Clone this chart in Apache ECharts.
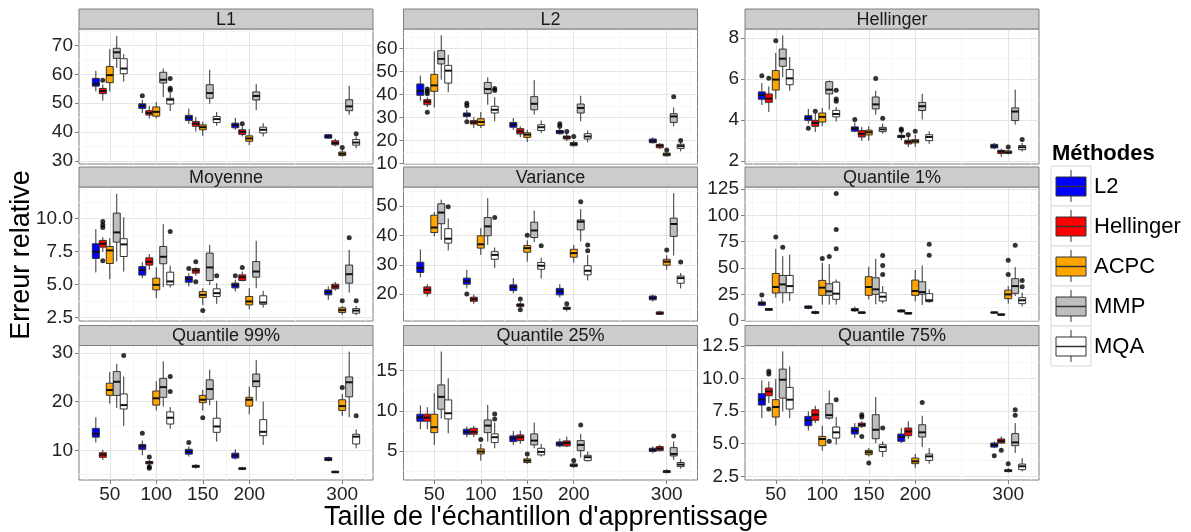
<!DOCTYPE html>
<html><head><meta charset="utf-8">
<script src="https://cdn.jsdelivr.net/npm/echarts@6/dist/echarts.min.js"></script>
<style>html,body{margin:0;padding:0;background:#fff}#c{width:1191px;height:532px}</style>
</head><body><div id="c"></div><script>
// ---------- data ----------
const xTicks = [50, 100, 150, 200, 300];
const xMinorTicks = [25, 75, 125, 175, 250, 325];
const methods = ['L2', 'Hellinger', 'ACPC', 'MMP', 'MQA'];
const panelTitles = ['L1', 'L2', 'Hellinger', 'Moyenne', 'Variance', 'Quantile 1%', 'Quantile 99%', 'Quantile 25%', 'Quantile 75%'];

// stats per method, per x tick: [lower whisker, q1, median, q3, upper whisker]
const L1_stats = [
  [[54.1,55.9,56.7,58.6,61.2],[46.6,48.2,49.1,49.8,51.2],[42.8,44.0,45.0,45.8,48.1],[40.8,41.5,42.4,43.1,44.9],[37.7,37.9,38.5,39.1,39.4]],
  [[50.9,53.3,54.2,55.1,56.5],[44.7,45.9,46.6,47.4,49.1],[40.2,42.0,42.9,43.7,45.2],[38.5,39.2,40.1,40.8,42.0],[35.1,35.6,36.2,37.0,37.7]],
  [[54.1,57.1,59.7,62.7,68.7],[44.7,45.5,47.0,48.7,50.4],[38.7,40.8,41.7,42.5,43.6],[35.5,36.8,37.8,38.7,41.0],[31.4,31.9,32.5,33.1,33.9]],
  [[62.2,65.5,67.6,69.0,73.3],[52.1,57.0,58.1,60.7,62.0],[49.8,51.7,53.5,56.4,61.6],[47.6,51.1,52.5,53.9,56.6],[46.0,47.4,48.9,51.2,56.0]],
  [[57.5,60.2,62.0,65.4,67.0],[47.3,49.7,51.2,51.7,53.5],[42.2,43.3,44.5,45.4,47.0],[38.5,39.7,40.8,41.7,43.1],[34.4,35.5,36.4,37.4,38.5]]
];
// outliers: [method index, x tick index, value]
const L1_out = [[1,0,57.9],[0,1,52.6],[4,1,58.5],[4,1,55.2],[4,1,54.5],[1,3,42.9],[2,4,34.7],[4,4,39.4]];

const L2_stats = [
  [[37.2,39.6,41.4,44.5,48.1],[29.4,30.4,31.2,31.9,33.3],[24.6,25.7,26.8,27.8,29.7],[22.5,22.9,23.8,24.3,25.4],[18.6,19.0,19.7,20.6,21.3]],
  [[34.5,35.5,36.8,37.7,38.7],[25.4,27.1,27.8,28.6,30.1],[21.4,22.8,23.9,25.1,26.1],[19.7,20.6,21.3,21.9,23.2],[16.2,16.8,17.7,18.3,18.8]],
  [[34.3,41.3,43.9,48.7,58.7],[25.4,26.5,28.0,29.4,32.3],[19.3,21.3,22.5,23.3,24.6],[17.2,17.7,18.4,19.1,20.0],[12.9,13.3,13.9,14.5,14.8]],
  [[46.4,53.2,55.4,59.0,65.7],[35.5,40.4,42.3,45.2,47.4],[31.2,33.3,35.9,39.0,46.2],[28.3,31.9,34.1,35.8,39.4],[26.1,27.8,30.4,31.6,34.3]],
  [[40.9,44.9,50.3,52.6,57.2],[28.3,31.9,33.3,34.8,38.8],[23.2,24.3,25.7,26.8,28.7],[19.1,20.6,21.7,22.9,24.2],[15.2,16.5,17.5,18.3,19.1]]
];
const L2_out = [[1,0,42.3],[1,0,41.3],[1,0,40.3],[1,0,32.2],[0,1,36.1],[0,1,35.1],[0,1,28.1],[4,1,42.5],[4,1,41.7],[0,3,27.2],[0,3,26.1],[1,3,23.9],[2,3,21.7],[2,4,15.8],[3,4,39.0],[4,4,20.0]];

const Hel_stats = [
  [[4.73,5.01,5.22,5.37,5.8],[3.82,3.98,4.1,4.21,4.54],[3.4,3.45,3.58,3.66,3.89],[3.01,3.14,3.2,3.25,3.37],[2.57,2.63,2.72,2.81,2.88]],
  [[4.39,4.86,5.04,5.27,5.64],[3.41,3.69,3.85,3.98,4.34],[2.98,3.17,3.32,3.48,3.66],[2.68,2.83,2.93,3.01,3.2],[2.2,2.36,2.46,2.52,2.59]],
  [[5.02,5.46,5.97,6.41,7.27],[3.69,3.9,4.15,4.34,4.59],[2.98,3.27,3.4,3.5,3.69],[2.68,2.88,2.96,3.04,3.28],[2.31,2.37,2.42,2.49,2.55]],
  [[6.08,6.62,6.99,7.46,8.13],[4.5,5.27,5.48,5.87,5.93],[4.26,4.54,4.76,5.12,5.43],[4.02,4.46,4.67,4.86,5.28],[3.77,3.97,4.41,4.59,5.48]],
  [[5.43,5.72,6.03,6.46,7.07],[3.92,4.15,4.29,4.47,4.63],[3.33,3.43,3.54,3.64,3.82],[2.83,2.99,3.17,3.28,3.45],[2.46,2.55,2.67,2.75,2.88]]
];
const Hel_out = [[0,0,6.16],[1,0,6.03],[2,0,7.87],[0,1,3.59],[1,1,4.42],[4,1,5.45],[4,1,5.02],[4,1,4.91],[0,2,4.02],[3,2,6.02],[4,2,4.08],[0,3,3.56],[0,3,3.48],[1,3,3.28],[2,3,3.45],[2,4,2.68],[4,4,3.04]];

const Moy_stats = [
  [[5.9,6.96,7.47,8.08,9.19],[5.47,5.7,6.1,6.35,6.68],[4.84,5.16,5.42,5.59,5.85],[4.46,4.73,4.94,5.09,5.34],[3.82,4.2,4.41,4.58,4.84]],
  [[7.47,7.82,8.08,8.33,8.58],[6.1,6.46,6.71,7.01,7.29],[5.65,5.85,6.05,6.2,6.3],[5.22,5.29,5.54,5.72,5.97],[4.53,4.66,4.84,5.01,5.19]],
  [[5.39,6.58,7.57,7.87,8.5],[3.95,4.58,4.96,5.47,6.3],[3.44,4.0,4.2,4.46,4.71],[3.11,3.44,3.7,4.08,4.71],[2.68,2.86,3.04,3.22,3.37]],
  [[6.73,8.2,8.94,10.4,11.87],[4.78,6.56,7.09,7.87,9.57],[4.96,5.29,6.28,7.37,8.0],[4.71,5.54,5.97,6.73,8.3],[4.38,5.09,5.77,6.46,7.62]],
  [[5.97,7.11,8.03,8.46,10.08],[4.76,4.96,5.22,5.92,6.41],[3.52,4.08,4.33,4.66,5.09],[3.24,3.49,3.62,4.13,4.51],[2.66,2.81,3.01,3.16,3.37]]
];
const Moy_out = [[1,0,9.77],[1,0,9.5],[1,0,9.3],[1,0,6.78],[4,1,9.01],[0,2,6.2],[1,2,6.71],[1,2,5.19],[2,2,3.01],[4,2,5.65],[0,3,5.65],[1,3,6.28],[2,4,3.75],[3,4,8.53],[4,4,3.75]];

const Var_stats = [
  [[25.7,27.4,28.9,30.9,35.3],[22.0,23.4,24.4,25.5,28.3],[20.3,21.25,22.4,23.2,25.5],[18.9,19.8,21.0,22.0,23.5],[17.5,18.1,18.75,19.4,19.9]],
  [[19.2,20.3,21.5,22.5,23.4],[16.7,17.6,18.3,19.0,19.9],[15.3,15.8,16.4,16.7,17.5],[14.2,14.9,15.2,15.6,16.0],[13.0,13.2,13.5,14.0,14.4]],
  [[39.7,41.0,42.7,46.9,48.0],[33.4,35.7,37.0,39.9,42.5],[31.1,34.3,35.7,36.6,38.4],[30.8,32.6,34.0,35.3,36.8],[28.3,29.9,31.1,31.9,33.3]],
  [[38.5,44.0,47.8,50.8,52.2],[36.8,39.9,43.1,46.1,52.7],[37.7,39.3,41.7,44.5,48.5],[38.0,41.9,44.7,45.3,49.0],[33.2,39.7,43.9,45.9,54.4]],
  [[34.9,37.4,38.9,42.3,45.8],[28.9,31.9,33.4,34.5,35.9],[25.3,28.5,29.7,30.8,32.5],[24.7,26.6,28.0,29.7,33.4],[22.0,23.75,25.5,26.2,27.2]]
];
const Var_out = [[4,0,49.8],[0,1,20.1],[4,1,46.1],[1,2,18.4],[1,2,14.7],[2,2,40.1],[4,2,36.5],[1,3,16.8],[3,3,51.5],[4,3,36.8],[4,3,34.8],[2,4,35.1],[4,4,31.0]];

const Q01_stats = [
  [[13.6,14.5,16.4,17.7,20.2],[10.7,11.7,12.6,13.9,14.5],[8.2,9.2,10.1,11.4,13.3],[7.6,8.2,9.2,10.1,10.7],[6.6,7.3,7.6,8.2,8.8]],
  [[9.2,9.8,10.7,11.4,12.0],[6.0,6.9,7.6,8.5,9.5],[6.6,6.9,7.6,8.2,8.8],[5.7,6.3,6.9,7.6,8.2],[4.7,5.1,5.7,6.3,6.6]],
  [[21.8,26.2,31.9,44.8,68.2],[15.2,24.0,31.3,38.2,54.9],[20.2,24.0,31.9,41.7,51.1],[18.3,24.0,28.1,38.5,48.0],[16.1,20.8,24.9,29.0,32.8]],
  [[16.4,26.5,34.4,42.9,61.2],[15.2,24.0,27.8,35.0,53.7],[15.5,25.0,29.7,40.7,58.7],[14.8,25.0,27.1,36.9,52.4],[23.4,25.9,32.8,39.8,50.8]],
  [[18.6,26.5,32.8,42.9,62.8],[15.2,20.2,25.6,36.6,39.1],[16.4,18.6,22.7,26.5,32.8],[17.0,18.0,19.3,25.6,29.7],[13.3,16.1,19.3,21.8,26.5]]
];
const Q01_out = [[0,0,24.3],[2,0,79.5],[3,0,69.8],[2,1,59.0],[3,1,60.9],[4,1,68.2],[4,1,86.5],[4,1,120.9],[4,2,43.9],[4,2,52.4],[4,2,61.9],[4,3,62.2],[4,3,72.6],[2,4,43.9],[2,4,57.4],[3,4,71.7],[4,4,38.2],[4,4,32.2]];

const Q99_stats = [
  [[11.6,12.7,13.4,14.5,16.8],[9.0,10.2,10.8,11.2,12.0],[8.7,9.2,9.7,10.2,10.8],[8.1,8.4,8.9,9.4,10.2],[7.7,7.9,8.1,8.5,8.7]],
  [[8.0,8.55,9.1,9.5,10.1],[6.9,7.2,7.5,7.7,8.0],[6.2,6.5,6.7,6.9,7.2],[5.9,6.1,6.2,6.4,6.6],[5.3,5.4,5.5,5.7,5.8]],
  [[19.6,21.3,22.4,23.8,26.1],[18.2,19.3,20.7,22.2,24.2],[18.2,19.8,20.4,21.3,22.4],[17.4,19.1,20.4,20.9,23.1],[17.1,18.2,19.1,20.4,21.6]],
  [[18.7,21.3,24.1,26.2,27.8],[19.0,20.9,23.0,24.8,28.3],[19.3,20.5,22.6,24.5,26.6],[20.2,23.1,24.2,25.7,28.6],[16.8,21.0,24.0,25.1,30.3]],
  [[15.0,18.5,19.3,21.6,25.2],[14.4,15.4,16.7,17.9,18.9],[11.8,13.7,14.9,16.6,20.2],[11.1,13.0,13.8,16.3,20.0],[10.4,11.3,12.8,13.3,14.3]]
];
const Q99_out = [[4,0,29.5],[0,1,13.5],[1,1,8.6],[1,1,6.6],[1,1,6.3],[4,1,25.2],[4,1,22.1],[0,2,11.6],[2,2,16.7],[2,4,22.9],[4,4,17.1]];

const Q25_stats = [
  [[7.73,8.72,9.21,9.59,10.66],[6.74,7.11,7.4,7.73,8.06],[5.79,6.2,6.61,6.9,7.52],[5.5,5.66,5.91,6.16,6.57],[4.75,4.96,5.17,5.37,5.58]],
  [[7.73,8.72,9.17,9.59,10.45],[6.74,7.11,7.4,7.85,8.14],[5.91,6.32,6.74,7.02,7.56],[5.5,5.66,6.03,6.28,6.82],[4.96,5.08,5.33,5.58,5.79]],
  [[5.79,7.31,7.98,9.59,12.19],[3.84,4.67,4.96,5.29,5.91],[3.43,3.6,3.84,4.05,4.34],[2.93,3.1,3.26,3.43,3.6],[2.27,2.36,2.48,2.6,2.77]],
  [[9.05,10.21,11.74,13.22,17.36],[6.2,7.31,8.18,8.88,10.74],[5.37,5.79,6.32,7.15,8.55],[4.21,5.08,5.79,6.32,7.15],[3.93,4.42,4.67,5.45,6.2]],
  [[7.23,9.0,9.71,11.36,14.05],[5.37,6.07,6.74,7.15,8.55],[4.34,4.55,4.92,5.37,5.91],[3.72,3.84,4.26,4.5,4.96],[2.85,3.1,3.35,3.6,4.01]]
];
const Q25_out = [[2,1,6.45],[4,1,9.63],[4,1,9.0],[2,2,4.67],[2,3,3.84],[3,3,8.26],[3,4,6.9]];

const Q75_stats = [
  [[6.96,7.96,8.37,8.83,9.85],[6.0,6.38,6.79,7.09,7.47],[5.43,5.74,6.0,6.25,6.58],[5.05,5.18,5.51,5.74,6.2],[4.67,4.74,4.9,5.05,5.18]],
  [[8.11,8.67,9.0,9.26,9.77],[6.58,6.79,7.22,7.6,7.91],[6.2,6.33,6.45,6.58,6.71],[5.36,5.61,5.94,6.2,6.71],[5.0,5.05,5.2,5.36,5.56]],
  [[6.38,7.04,7.81,8.37,9.95],[4.46,4.85,5.36,5.56,6.38],[4.03,4.16,4.34,4.49,4.67],[3.14,3.47,3.65,3.9,4.21],[2.81,2.86,2.93,3.01,3.14]],
  [[7.47,8.49,9.9,10.71,12.07],[6.84,6.96,7.19,8.06,9.08],[5.05,5.38,6.07,7.22,8.57],[4.74,5.51,5.87,6.45,7.14],[4.29,4.85,5.1,5.77,6.58]],
  [[6.96,7.65,8.37,9.31,10.92],[4.92,5.43,5.87,6.28,7.04],[3.98,4.41,4.74,4.92,5.18],[3.47,3.72,4.03,4.21,4.67],[2.88,3.01,3.27,3.44,3.9]]
];
const Q75_out = [[1,0,10.54],[1,0,10.33],[1,0,7.65],[3,1,5.18],[4,1,8.37],[1,2,7.22],[1,2,7.04],[1,2,5.56],[2,2,3.52],[4,2,6.2],[3,3,8.16],[0,4,4.08],[1,4,4.49],[2,4,3.47],[3,4,7.6],[3,4,7.17]];

// y tick labels (major) and minor grid positions per panel
const L1_ticks = [30,40,50,60,70],      L1_minor = [35,45,55,65,75];
const L2_ticks = [10,20,30,40,50,60],   L2_minor = [15,25,35,45,55,65];
const Hel_ticks = [2,4,6,8],            Hel_minor = [3,5,7];
const Moy_ticks = [2.5,5,7.5,10],       Moy_minor = [3.75,6.25,8.75,11.25];
const Var_ticks = [20,30,40,50],        Var_minor = [15,25,35,45,55];
const Q01_ticks = [0,25,50,75,100,125], Q01_minor = [12.5,37.5,62.5,87.5,112.5];
const Q99_ticks = [10,20,30],           Q99_minor = [5,15,25];
const Q25_ticks = [5,10,15],            Q25_minor = [2.5,7.5,12.5,17.5];
const Q75_ticks = [2.5,5,7.5,10,12.5],  Q75_minor = [3.75,6.25,8.75,11.25];
// y axis extents
const L1_range = [28.96,75.67], L2_range = [9.74,68.4], Hel_range = [1.85,8.44];
const Moy_range = [2.22,12.38], Var_range = [10.9,56.5], Q01_range = [-0.4,127];
const Q99_range = [3.88,31.57], Q25_range = [1.44,18.1], Q75_range = [2.22,12.52];

const panels = [
  {stats:L1_stats, out:L1_out, ticks:L1_ticks, minor:L1_minor, range:L1_range, dec:0},
  {stats:L2_stats, out:L2_out, ticks:L2_ticks, minor:L2_minor, range:L2_range, dec:0},
  {stats:Hel_stats, out:Hel_out, ticks:Hel_ticks, minor:Hel_minor, range:Hel_range, dec:0},
  {stats:Moy_stats, out:Moy_out, ticks:Moy_ticks, minor:Moy_minor, range:Moy_range, dec:1},
  {stats:Var_stats, out:Var_out, ticks:Var_ticks, minor:Var_minor, range:Var_range, dec:0},
  {stats:Q01_stats, out:Q01_out, ticks:Q01_ticks, minor:Q01_minor, range:Q01_range, dec:0},
  {stats:Q99_stats, out:Q99_out, ticks:Q99_ticks, minor:Q99_minor, range:Q99_range, dec:0},
  {stats:Q25_stats, out:Q25_out, ticks:Q25_ticks, minor:Q25_minor, range:Q25_range, dec:0},
  {stats:Q75_stats, out:Q75_out, ticks:Q75_ticks, minor:Q75_minor, range:Q75_range, dec:1}
];

// ---------- layout & style ----------
const FONT = '"Liberation Sans", Arial, Helvetica, sans-serif';
const colors = ['#0000ff', '#ff0000', '#ffa500', '#bebebe', '#ffffff'];
const COLS = [79, 403.5, 745], PW = 294;
const ROWS = [29, 187, 345.5], PH = [135, 134, 134.5];
const STRIP_H = 20;
const XMIN = 16.9, XMAX = 333.1, DODGE = 7.5, BOXW = 7.5;
const MAJOR = '#e3e3e3', MINOR = '#f6f6f6', BORDER = '#7f7f7f', OUTLINE = '#333333';

function renderBox(params, api) {
  const m = api.value(1);
  const cx = api.value(0) + (m - 2) * DODGE;
  const lo = api.coord([cx, api.value(2)]);
  const q1 = api.coord([cx, api.value(3)]);
  const md = api.coord([cx, api.value(4)]);
  const q3 = api.coord([cx, api.value(5)]);
  const hi = api.coord([cx, api.value(6)]);
  const hw = api.size([BOXW, 0])[0] / 2;
  return {type: 'group', children: [
    {type: 'line', shape: {x1: lo[0], y1: lo[1], x2: q1[0], y2: q1[1]}, style: {stroke: OUTLINE, lineWidth: 1}},
    {type: 'line', shape: {x1: q3[0], y1: q3[1], x2: hi[0], y2: hi[1]}, style: {stroke: OUTLINE, lineWidth: 1}},
    {type: 'rect', shape: {x: q1[0] - hw, y: q3[1], width: 2 * hw, height: q1[1] - q3[1]}, style: {fill: colors[m], stroke: OUTLINE, lineWidth: 1}},
    {type: 'line', shape: {x1: md[0] - hw, y1: md[1], x2: md[0] + hw, y2: md[1]}, style: {stroke: '#111', lineWidth: 2}}
  ]};
}

const grid = [], xAxis = [], yAxis = [], series = [], graphic = [];
panels.forEach((p, i) => {
  const r = Math.floor(i / 3), c = i % 3;
  grid.push({left: COLS[c], top: ROWS[r], width: PW, height: PH[r], show: true, backgroundColor: '#fff', borderColor: BORDER, borderWidth: 1});
  const bottomRow = r === 2;
  xAxis.push({gridIndex: i, type: 'value', min: XMIN, max: XMAX, position: 'bottom',
    axisLine: {show: false},
    axisTick: {show: bottomRow, customValues: xTicks, length: 4, lineStyle: {color: BORDER}},
    axisLabel: {show: bottomRow, customValues: xTicks, fontSize: 19, fontFamily: FONT, color: '#222', margin: 5},
    splitLine: {show: true, lineStyle: {color: MAJOR, width: 1}}});
  yAxis.push({gridIndex: i, type: 'value', min: p.range[0], max: p.range[1], position: 'left',
    axisLine: {show: false},
    axisTick: {show: true, customValues: p.ticks, length: 4, lineStyle: {color: BORDER}},
    axisLabel: {customValues: p.ticks, fontSize: 19, fontFamily: FONT, color: '#222', margin: 6,
      formatter: v => Number(v).toFixed(p.dec)},
    splitLine: {show: true, lineStyle: {color: MAJOR, width: 1}}});
  // boxes
  const data = [];
  p.stats.forEach((arr, m) => arr.forEach((s, k) => data.push([xTicks[k], m].concat(s))));
  series.push({type: 'custom', xAxisIndex: i, yAxisIndex: i, renderItem: renderBox,
    dimensions: ['x', 'm', 'lo', 'q1', 'med', 'q3', 'hi'],
    encode: {x: 0, y: [2, 3, 4, 5, 6]}, data: data, silent: true, z: 3});
  // outliers
  series.push({type: 'scatter', xAxisIndex: i, yAxisIndex: i, symbol: 'circle', symbolSize: 5, silent: true, z: 4,
    itemStyle: {color: '#000'},
    data: p.out.map(o => [xTicks[o[1]] + (o[0] - 2) * DODGE, o[2]])});
  // strip header
  graphic.push({type: 'rect', silent: true, shape: {x: COLS[c], y: ROWS[r] - STRIP_H, width: PW, height: STRIP_H},
    style: {fill: '#cccccc', stroke: BORDER, lineWidth: 1}, z: 10});
  graphic.push({type: 'text', silent: true, x: COLS[c] + PW / 2, y: ROWS[r] - STRIP_H / 2 + 1, z: 11,
    style: {text: panelTitles[i], font: '18px ' + FONT, fill: '#1a1a1a', align: 'center', verticalAlign: 'middle', textAlign: 'center', textVerticalAlign: 'middle'}});
});
// minor grid lines via hidden axes
panels.forEach((p, i) => {
  xAxis.push({gridIndex: i, type: 'value', min: XMIN, max: XMAX, position: 'top',
    axisLine: {show: false}, axisTick: {show: false, customValues: xMinorTicks}, axisLabel: {show: false},
    splitLine: {show: true, lineStyle: {color: MINOR, width: 1}}});
  yAxis.push({gridIndex: i, type: 'value', min: p.range[0], max: p.range[1], position: 'right',
    axisLine: {show: false}, axisTick: {show: false, customValues: p.minor}, axisLabel: {show: false},
    splitLine: {show: true, lineStyle: {color: MINOR, width: 1}}});
});

// axis titles
graphic.push({type: 'text', silent: true, x: 22, y: 255, rotation: Math.PI / 2,
  style: {text: 'Erreur relative', font: '27px ' + FONT, fill: '#000', align: 'center', verticalAlign: 'middle', textAlign: 'center', textVerticalAlign: 'middle'}});
graphic.push({type: 'text', silent: true, x: 546, y: 518,
  style: {text: "Taille de l'échantillon d'apprentissage", font: '27px ' + FONT, fill: '#000', align: 'center', verticalAlign: 'middle', textAlign: 'center', textVerticalAlign: 'middle'}});

// legend
const LX = 1051, LY = 166, KEY = 40;
graphic.push({type: 'text', silent: true, x: 1052, y: 154,
  style: {text: 'Méthodes', font: 'bold 22px ' + FONT, fill: '#000', align: 'left', verticalAlign: 'middle', textAlign: 'left', textVerticalAlign: 'middle'}});
methods.forEach((name, m) => {
  const y0 = LY + m * KEY;
  graphic.push({type: 'rect', silent: true, shape: {x: LX, y: y0, width: KEY, height: KEY}, style: {fill: '#fff', stroke: '#d9d9d9', lineWidth: 1}});
  graphic.push({type: 'line', silent: true, shape: {x1: LX + 20, y1: y0 + 4, x2: LX + 20, y2: y0 + 36}, style: {stroke: OUTLINE, lineWidth: 1}});
  graphic.push({type: 'rect', silent: true, shape: {x: LX + 5, y: y0 + 11, width: 30, height: 19}, style: {fill: colors[m], stroke: OUTLINE, lineWidth: 1}});
  graphic.push({type: 'line', silent: true, shape: {x1: LX + 5, y1: y0 + 20.5, x2: LX + 35, y2: y0 + 20.5}, style: {stroke: OUTLINE, lineWidth: 1.5}});
  graphic.push({type: 'text', silent: true, x: LX + 43, y: y0 + 21,
    style: {text: name, font: '22px ' + FONT, fill: '#000', align: 'left', verticalAlign: 'middle', textAlign: 'left', textVerticalAlign: 'middle'}});
});

const chart = echarts.init(document.getElementById('c'), null, {renderer: 'canvas'});
chart.setOption({
  animation: false,
  backgroundColor: '#fff',
  textStyle: {fontFamily: FONT},
  grid, xAxis, yAxis, series, graphic
});
</script></body></html>
